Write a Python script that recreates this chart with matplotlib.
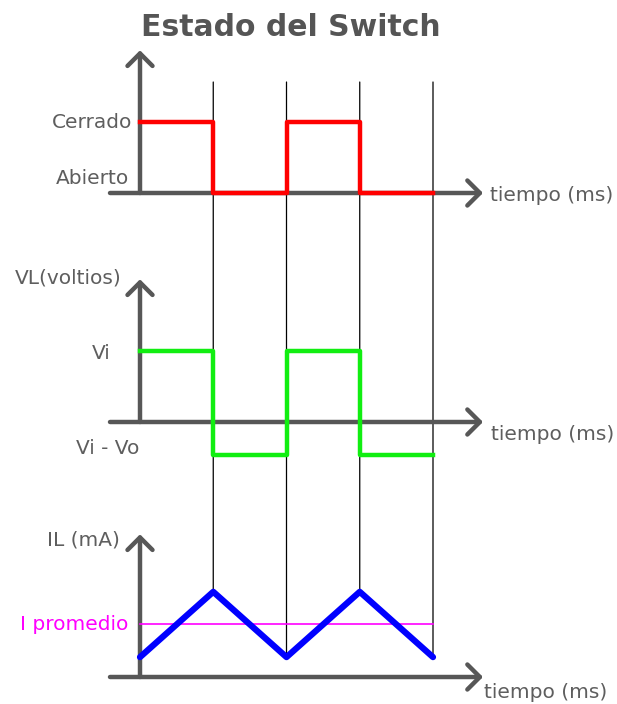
import matplotlib
matplotlib.use("Agg")
import matplotlib.pyplot as plt
from matplotlib.patches import ConnectionPatch

# tiempo en medios periodos
t = [0, 1, 2, 3, 4]
switch = [1, 0, 1, 0, 0]          # 1 = Cerrado, 0 = Abierto
vl = [1.0, -0.47, 1.0, -0.47, -0.47]   # Vi / Vi - Vo
il = [0.28, 1.2, 0.28, 1.2, 0.28]      # corriente en la bobina
il_avg = 0.74

W, H = 617, 704
PX, PY = 73.25, 71.0   # pixels per unit
GRAY = "#575757"
TXT = "#5e5e5e"
FS = 14.5

fig = plt.figure(figsize=(W / 100, H / 100), dpi=100)
fig.patch.set_facecolor("white")


def panel(y_axis):
    top, bot = y_axis - 150, y_axis + 25
    ax = fig.add_axes([100 / W, (H - bot) / H, 400 / W, (bot - top) / H])
    ax.set_xlim(-40 / PX, 360 / PX)
    ax.set_ylim(-25 / PY, 150 / PY)
    ax.axis("off")
    arrow = dict(arrowstyle="->,head_length=0.45,head_width=0.45", lw=3.2,
                 color=GRAY, mutation_scale=20, shrinkA=0, shrinkB=0)
    ax.annotate("", xy=(343 / PX, 0), xytext=(-30 / PX, 0),
                arrowprops=arrow, annotation_clip=False)
    ax.annotate("", xy=(0, 2.01), xytext=(0, 0),
                arrowprops=arrow, annotation_clip=False)
    return ax


ax1 = panel(193)
ax2 = panel(422)
ax3 = panel(677)

fig.text(291 / W, 1 - 27 / H, "Estado del Switch", ha="center", va="center",
         fontsize=21.5, fontweight="bold", color="#555555")

# estado del switch
ax1.plot(t, switch, drawstyle="steps-post", color="#ff0000", lw=3.2,
         zorder=5, clip_on=False)
ax1.text(-0.11, 1.0, "Cerrado", ha="right", va="center", fontsize=FS, color=TXT)
ax1.text(-0.15, 0.2, "Abierto", ha="right", va="center", fontsize=FS, color=TXT)
ax1.text(4.78, -0.03, "tiempo (ms)", ha="left", va="center", fontsize=FS, color=TXT)

# tension en la bobina
ax2.plot(t, vl, drawstyle="steps-post", color="#11ee11", lw=3.2,
         zorder=5, clip_on=False)
ax2.text(-0.25, 2.03, "VL(voltios)", ha="right", va="center", fontsize=FS, color=TXT)
ax2.text(-0.53, 0.96, "Vi", ha="center", va="center", fontsize=FS, color=TXT)
ax2.text(-0.44, -0.38, "Vi - Vo", ha="center", va="center", fontsize=FS, color=TXT)
ax2.text(4.79, -0.18, "tiempo (ms)", ha="left", va="center", fontsize=FS, color=TXT)

# corriente en la bobina
ax3.plot(t, il, color="#0000ff", lw=4.5, zorder=5, clip_on=False,
         solid_capstyle="round")
ax3.plot([t[0], t[-1]], [il_avg, il_avg], color="#ff00ff", lw=1.2, zorder=4)
ax3.text(-0.27, 1.93, "IL (mA)", ha="right", va="center", fontsize=FS, color=TXT)
ax3.text(-0.16, il_avg, "I promedio", ha="right", va="center", fontsize=FS,
         color="#ff00ff")
ax3.text(4.69, -0.225, "tiempo (ms)", ha="left", va="center", fontsize=FS, color=TXT)

# lineas verticales de referencia
for ti, ii in zip(t[1:], il[1:]):
    con = ConnectionPatch(xyA=(ti, 111 / PY), coordsA=ax1.transData,
                          xyB=(ti, ii), coordsB=ax3.transData,
                          color="black", lw=0.9, zorder=1)
    ax1.add_artist(con)

fig.savefig("out.png", dpi=100, facecolor="white")
